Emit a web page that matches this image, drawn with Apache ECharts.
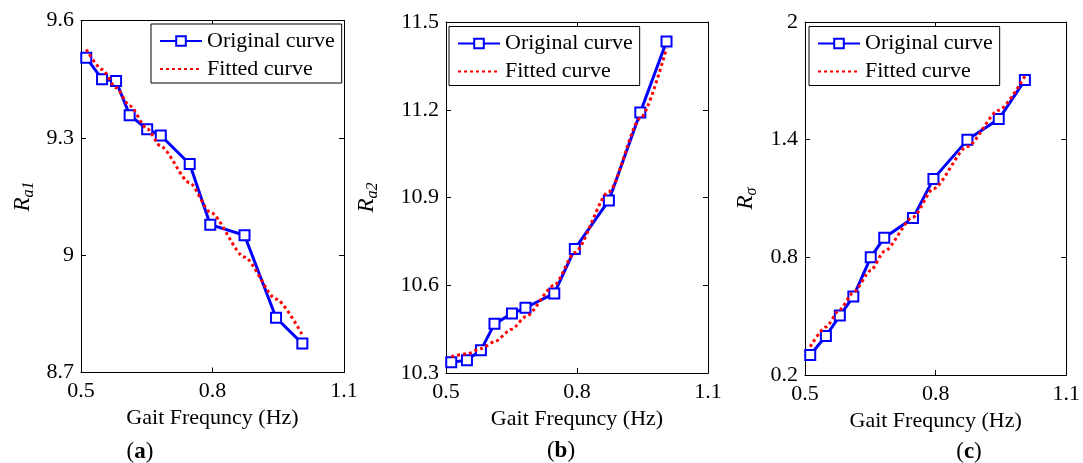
<!DOCTYPE html>
<html>
<head>
<meta charset="utf-8">
<script src="https://cdn.jsdelivr.net/npm/echarts@6/dist/echarts.min.js"></script>
<style>
  html, body { margin: 0; padding: 0; background: #fff; }
  #chart { width: 1083px; height: 463px; }
</style>
</head>
<body>
<div id="chart"></div>
<script>
// ---- data ----
const freq   = [0.512, 0.548, 0.580, 0.611, 0.651, 0.682, 0.748, 0.795, 0.873, 0.945, 1.005];

const ra1    = [9.505, 9.450, 9.445, 9.358, 9.322, 9.306, 9.233, 9.078, 9.051, 8.840, 8.774];
const ra1Fit = [9.526, 9.475, 9.428, 9.382, 9.323, 9.278, 9.185, 9.110, 8.995, 8.888, 8.796];

const ra2    = [10.337, 10.344, 10.378, 10.468, 10.503, 10.523, 10.572, 10.724, 10.890, 11.191, 11.433];
const ra2Fit = [10.356, 10.366, 10.383, 10.407, 10.450, 10.492, 10.600, 10.712, 10.920, 11.170, 11.410];

const rs     = [0.302, 0.399, 0.503, 0.600, 0.800, 0.900, 1.000, 1.200, 1.399, 1.505, 1.704];
const rsFit  = [0.344, 0.445, 0.534, 0.621, 0.733, 0.830, 1.005, 1.150, 1.365, 1.550, 1.724];

const xTicks    = [0.5, 0.8, 1.1];
const ra1Ticks  = [8.7, 9.0, 9.3, 9.6];
const ra2Ticks  = [10.3, 10.6, 10.9, 11.2, 11.5];
const rsTicks   = [0.2, 0.8, 1.4, 2.0];

const seriesNames = ['Original curve', 'Fitted curve'];
const xTitle = 'Gait Frequncy (Hz)';
const yTitles = [['R', 'a1'], ['R', 'a2'], ['R', 'σ']];
const panelLabels = ['a', 'b', 'c'];

// ---- layout / style ----
const FONT = '"Liberation Serif", "Times New Roman", serif';
const panels = [
  { y: ra1, fit: ra1Fit, ticks: ra1Ticks, grid: {left: 81,  top: 20.5, width: 263, height: 352}, legend: {left: 151, top: 24},   nameGap: 44, label: {x: 140, y: 452} },
  { y: ra2, fit: ra2Fit, ticks: ra2Ticks, grid: {left: 446, top: 22,   width: 262, height: 351}, legend: {left: 449, top: 26.5}, nameGap: 65, label: {x: 561, y: 451} },
  { y: rs,  fit: rsFit,  ticks: rsTicks,  grid: {left: 805, top: 22,   width: 264, height: 353}, legend: {left: 809, top: 26.5}, nameGap: 45, label: {x: 969, y: 452} }
];

const fmt = v => String(parseFloat(Number(v).toFixed(2)));
const axisLineStyle = { show: true, onZero: false, lineStyle: { color: '#000', width: 1 } };

const grids = [], xAxes = [], yAxes = [], series = [], legends = [], graphics = [];

panels.forEach((p, i) => {
  grids.push(Object.assign({ containLabel: false }, p.grid));
  const xmin = xTicks[0], xmax = xTicks[xTicks.length - 1];
  const ymin = p.ticks[0], ymax = p.ticks[p.ticks.length - 1];
  const xInt = +(xTicks[1] - xTicks[0]).toFixed(6);
  const yInt = +(p.ticks[1] - p.ticks[0]).toFixed(6);

  xAxes.push({
    type: 'value', gridIndex: i, position: 'bottom', min: xmin, max: xmax, interval: xInt,
    name: xTitle, nameLocation: 'middle', nameGap: 30,
    nameTextStyle: { fontFamily: FONT, fontSize: 22, color: '#000' },
    axisLine: axisLineStyle,
    axisTick: { show: true, inside: true, length: 5, customValues: xTicks, lineStyle: { color: '#000' } },
    axisLabel: { show: true, margin: 8, fontFamily: FONT, fontSize: 22, color: '#000', customValues: xTicks, formatter: fmt },
    splitLine: { show: false }
  });
  xAxes.push({
    type: 'value', gridIndex: i, position: 'top', min: xmin, max: xmax, interval: xInt,
    axisLine: axisLineStyle,
    axisTick: { show: true, inside: true, length: 5, customValues: xTicks, lineStyle: { color: '#000' } },
    axisLabel: { show: false }, splitLine: { show: false }
  });
  yAxes.push({
    type: 'value', gridIndex: i, position: 'left', min: ymin, max: ymax, interval: yInt,
    name: '{r|' + yTitles[i][0] + '}{s|' + yTitles[i][1] + '}',
    nameLocation: 'middle', nameRotate: 90, nameGap: p.nameGap,
    nameTextStyle: {
      rich: {
        r: { fontFamily: FONT, fontStyle: 'italic', fontSize: 23, color: '#000', lineHeight: 29 },
        s: { fontFamily: FONT, fontStyle: 'italic', fontSize: 16, color: '#000', verticalAlign: 'bottom' }
      }
    },
    axisLine: axisLineStyle,
    axisTick: { show: true, inside: true, length: 5, customValues: p.ticks, lineStyle: { color: '#000' } },
    axisLabel: { show: true, margin: 7, fontFamily: FONT, fontSize: 22, color: '#000', customValues: p.ticks, formatter: fmt },
    splitLine: { show: false }
  });
  yAxes.push({
    type: 'value', gridIndex: i, position: 'right', min: ymin, max: ymax, interval: yInt,
    axisLine: axisLineStyle,
    axisTick: { show: true, inside: true, length: 5, customValues: p.ticks, lineStyle: { color: '#000' } },
    axisLabel: { show: false }, splitLine: { show: false }
  });

  series.push({
    name: seriesNames[0], type: 'line', xAxisIndex: 2 * i, yAxisIndex: 2 * i,
    data: freq.map((x, k) => [x, p.y[k]]),
    symbol: 'emptyRect', symbolSize: 10, showSymbol: true,
    lineStyle: { color: '#0000ff', width: 3 },
    itemStyle: { color: '#0000ff', borderWidth: 2.5 },
    emphasis: { disabled: true }, z: 2
  });
  series.push({
    name: seriesNames[1], type: 'line', xAxisIndex: 2 * i, yAxisIndex: 2 * i,
    data: freq.map((x, k) => [x, p.fit[k]]),
    symbol: 'none', showSymbol: false, smooth: 0.25, smoothMonotone: 'x',
    lineStyle: { color: '#ff0000', width: 3, type: [3, 3] },
    itemStyle: { color: '#ff0000' },
    emphasis: { disabled: true }, z: 3
  });

  legends.push({
    orient: 'vertical', left: p.legend.left, top: p.legend.top,
    itemWidth: 42, itemHeight: 12, itemGap: 6,
    padding: [6, 7, 3, 8],
    borderColor: '#000', borderWidth: 1, backgroundColor: '#fff',
    textStyle: { fontFamily: FONT, fontSize: 22, color: '#000' },
    selectedMode: false,
    data: [
      { name: seriesNames[0] },
      { name: seriesNames[1], itemStyle: { opacity: 0, color: 'rgba(0,0,0,0)', borderWidth: 0 } }
    ]
  });

  graphics.push({
    type: 'text', x: p.label.x, y: p.label.y,
    style: {
      text: '{p|(}{b|' + panelLabels[i] + '}{p|)}',
      rich: {
        p: { fontFamily: FONT, fontSize: 23, color: '#000' },
        b: { fontFamily: FONT, fontSize: 23, fontWeight: 'bold', color: '#000' }
      },
      align: 'center', verticalAlign: 'middle', textAlign: 'center', textVerticalAlign: 'middle'
    }
  });
});

const chart = echarts.init(document.getElementById('chart'), null, { renderer: 'canvas' });
chart.setOption({
  backgroundColor: '#fff',
  animation: false,
  grid: grids,
  xAxis: xAxes,
  yAxis: yAxes,
  legend: legends,
  series: series,
  graphic: graphics
});
</script>
</body>
</html>
